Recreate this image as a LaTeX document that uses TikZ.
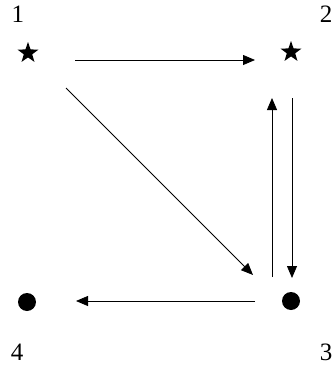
\documentclass[tikz,border=0pt]{standalone}
\usepackage{fontspec}
\setmainfont{Liberation Serif}
\usetikzlibrary{arrows.meta,shapes.geometric,calc}
\begin{document}
\begin{tikzpicture}[x=1pt,y=-1pt,
  starnode/.style={star,star points=5,star point ratio=2.5,fill=black,inner sep=0pt,minimum size=22pt},
  dotnode/.style={circle,fill=black,inner sep=0pt,minimum size=18pt},
  lbl/.style={anchor=base,inner sep=0pt,font=\fontsize{25}{30}\selectfont},
  arr/.style={-{Triangle[length=12pt,width=10pt]},line width=0.8pt}]
\useasboundingbox (0,0) rectangle (333,370);
\node[starnode] (s1) at (28,53) {};
\node[starnode] (s2) at (291,52) {};
\node[dotnode] (b3) at (291,301) {};
\node[dotnode] (b4) at (27,302) {};
\node[lbl] (l1) at (18,22) {1};
\node[lbl] (l2) at (326,22) {2};
\node[lbl] (l3) at (326,360) {3};
\node[lbl] (l4) at (17,360) {4};
\draw[arr] ($(s1)+(47,7)$) -- ($(s2)+(-36,8)$);
\draw[arr] ($(s1)+(38,35)$) -- ($(b3)+(-38,-26)$);
\draw[arr] ($(b3)+(-19,-24)$) -- ($(s2)+(-19,46)$);
\draw[arr] ($(s2)+(1,46)$) -- ($(b3)+(1,-23)$);
\draw[arr] ($(b3)+(-36,0)$) -- ($(b4)+(49,-1)$);
\end{tikzpicture}
\end{document}
